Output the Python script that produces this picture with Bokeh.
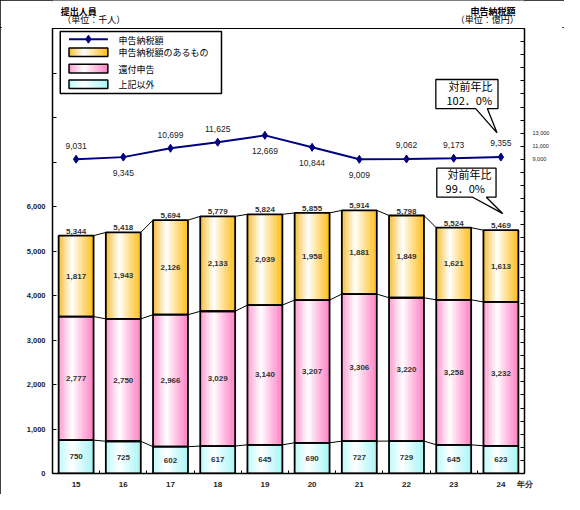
import numpy as np
from bokeh.plotting import figure
from bokeh.layouts import column
from bokeh.models import Range1d, LinearAxis, FixedTicker
from bokeh.core.properties import value
from bokeh.embed import file_html
from bokeh.resources import INLINE

# ---------------- data ----------------
years = ["15", "16", "17", "18", "19", "20", "21", "22", "23", "24"]
year_unit = "年分"
other = [750, 725, 602, 617, 645, 690, 727, 729, 645, 623]              # 上記以外
refund = [2777, 2750, 2966, 3029, 3140, 3207, 3306, 3220, 3258, 3232]   # 還付申告
taxpay = [1817, 1943, 2126, 2133, 2039, 1958, 1881, 1849, 1621, 1613]   # 申告納税額のあるもの
totals = [5344, 5418, 5694, 5779, 5824, 5855, 5914, 5798, 5524, 5469]   # 提出人員 合計
tax_amount = [9031, 9345, 10699, 11625, 12669, 10844, 9009, 9062, 9173, 9355]  # 申告納税額(億円)
tax_label_side = [1, -1, 1, 1, -1, -1, -1, 1, 1, 1]   # +1 above, -1 below
left_ticks = list(range(0, 10001, 1000))
left_tick_labels = ["0", "1,000", "2,000", "3,000", "4,000", "5,000", "6,000", "", "", "", ""]
right_ticks = list(range(-39000, 29001, 2000))
right_tick_labels = {9000: "9,000", 11000: "11,000", 13000: "13,000"}
yoy_tax = "102．0%"
yoy_people = "99．0%"
series_names = ["申告納税額", "申告納税額のあるもの", "還付申告", "上記以外"]
left_title = ["提出人員", "（単位：千人）"]
right_title = ["申告納税額", "（単位：億円）"]

# ---------------- layout helpers (reference pixels -> data) ----------------
W, H = 564, 494
SX, SY = W / 580, H / 510
FL, FR, FT, FB = 53, 539, 29, 488          # plot frame in reference pixels
HEAD = round(FT * SY) - 1                   # header strip height (px)
MAIN_H = H - HEAD
XR = (-0.5, len(years) - 0.5)
YL = (0, 10000)
YR = (-39000, 29000)


def px_x(px):
    return XR[0] + (px - FL) / (FR - FL) * (XR[1] - XR[0])


def px_yl(py):
    return YL[0] + (FB - py) / (FB - FT) * (YL[1] - YL[0])


def dx(d):
    return d / (FR - FL) * (XR[1] - XR[0])


def dyl(d):
    return d / (FB - FT) * (YL[1] - YL[0])


def dyr(d):
    return d / (FB - FT) * (YR[1] - YR[0])


JP = value("Noto Sans CJK JP")
NUM = value("Liberation Sans")

# ---------------- header strip (titles) ----------------
head = figure(width=W, height=HEAD, x_range=Range1d(0, 580), y_range=Range1d(HEAD / SY, 0),
              output_backend="svg", toolbar_location=None, x_axis_type=None, y_axis_type=None,
              min_border=0, min_border_left=0, min_border_right=0, min_border_top=0,
              min_border_bottom=0)
head.outline_line_color = None
head.xgrid.visible = False
head.ygrid.visible = False
head.background_fill_color = "white"
head.border_fill_color = "white"
head.text(x=[10], y=[11], text=[left_title[0]], text_font=JP, text_font_size="9px",
          text_font_style="bold", text_color="black", text_align="left", text_baseline="middle")
head.text(x=[12], y=[20], text=[left_title[1]], text_font=JP, text_font_size="9px",
          text_color="black", text_align="left", text_baseline="middle")
head.text(x=[569], y=[11], text=[right_title[0]], text_font=JP, text_font_size="9px",
          text_font_style="bold", text_color="black", text_align="right", text_baseline="middle")
head.text(x=[573], y=[20], text=[right_title[1]], text_font=JP, text_font_size="9px",
          text_color="black", text_align="right", text_baseline="middle")

# ---------------- main plot ----------------
frame_bottom = round(FB * SY) - HEAD
p = figure(width=W, height=MAIN_H, x_range=Range1d(*XR), y_range=Range1d(*YL),
           output_backend="svg", toolbar_location=None,
           min_border_left=round(FL * SX), min_border_right=W - round(FR * SX),
           min_border_top=1, min_border_bottom=MAIN_H - frame_bottom)
p.extra_y_ranges = {"right": Range1d(*YR)}
p.xgrid.visible = False
p.ygrid.visible = False
p.outline_line_color = "black"
p.outline_line_width = 1
p.background_fill_color = "white"
p.border_fill_color = "white"

# left axis
ya = p.yaxis[0]
ya.ticker = FixedTicker(ticks=left_ticks, minor_ticks=[])
ya.major_label_overrides = {t: l for t, l in zip(left_ticks, left_tick_labels)}
ya.major_tick_in = 4
ya.major_tick_out = 0
ya.minor_tick_in = 0
ya.minor_tick_out = 0
ya.axis_line_color = "black"
ya.axis_line_width = 1.5
ya.major_tick_line_color = "black"
ya.major_label_text_font = "Liberation Sans"
ya.major_label_text_font_size = "7.5px"
ya.major_label_text_font_style = "bold"
ya.major_label_text_color = "#222"
ya.major_label_standoff = 7

# x axis (year labels + unit label at the right edge)
xa = p.xaxis[0]
x_tick_pos = list(range(len(years))) + [XR[1]]
xa.ticker = FixedTicker(ticks=x_tick_pos,
                        minor_ticks=[i + 0.5 for i in range(len(years) - 1)])
xa.major_label_overrides = {t: l for t, l in zip(x_tick_pos, years + [year_unit])}
xa.major_tick_in = 0
xa.major_tick_out = 0
xa.minor_tick_in = 3
xa.minor_tick_out = 0
xa.axis_line_color = "black"
xa.axis_line_width = 1.5
xa.major_label_text_font = "Liberation Sans"
xa.major_label_text_font_size = "8px"
xa.major_label_text_font_style = "bold"
xa.major_label_text_color = "#222"
xa.major_label_standoff = 6

# right axis
ra = LinearAxis(y_range_name="right", ticker=FixedTicker(ticks=right_ticks, minor_ticks=[]))
ra.major_label_overrides = {t: right_tick_labels.get(t, "") for t in right_ticks}
ra.major_tick_in = 4
ra.major_tick_out = 0
ra.minor_tick_in = 0
ra.minor_tick_out = 0
ra.axis_line_color = "black"
ra.axis_line_width = 1.5
ra.major_label_text_font = "Liberation Sans"
ra.major_label_text_font_size = "5.5px"
ra.major_label_text_color = "#222"
ra.major_label_standoff = 8
p.add_layout(ra, "right")

# ---------------- gradient bars ----------------
BW = 0.74
N = 24
palettes = {
    "orange": ((245, 188, 45), (255, 188, 20)),
    "pink": ((255, 150, 205), (255, 125, 195)),
    "cyan": ((185, 250, 250), (165, 245, 245)),
}


def grad_color(name, t):
    left, right = palettes[name]
    tw = 0.40
    if t < tw:
        a = ((tw - t) / tw) ** 1.1
        c = left
    else:
        a = ((t - tw) / (1 - tw)) ** 0.9
        c = right
    r = [int(round(255 * (1 - a) + ci * a)) for ci in c]
    return "#%02x%02x%02x" % tuple(r)


def gradient_rects(xc, w, bottoms, tops, name):
    L, R, B, T, C = [], [], [], [], []
    sw = w / N
    for k in range(N):
        t = (k + 0.5) / N
        col = grad_color(name, t)
        for x0, b, tp in zip(xc, bottoms, tops):
            l = x0 - w / 2 + k * sw
            L.append(l)
            R.append(min(l + sw * 1.25, x0 + w / 2))
            B.append(b)
            T.append(tp)
            C.append(col)
    p.quad(left=L, right=R, bottom=B, top=T, fill_color=C, line_color=None)


xs = np.arange(len(years), dtype=float)
b0 = np.zeros(len(years))
t0 = np.array(other, dtype=float)
t1 = t0 + np.array(refund)
t2 = t1 + np.array(taxpay)

gradient_rects(xs, BW, b0, t0, "cyan")
gradient_rects(xs, BW, t0, t1, "pink")
gradient_rects(xs, BW, t1, t2, "orange")
for b, t in ((b0, t0), (t0, t1), (t1, t2)):
    p.quad(left=xs - BW / 2, right=xs + BW / 2, bottom=b, top=t,
           fill_color=None, line_color="black", line_width=1.8)

# connector lines between bars
for lvl in (t0, t1, t2):
    p.segment(x0=xs[:-1] + BW / 2, y0=lvl[:-1], x1=xs[1:] - BW / 2, y1=lvl[1:],
              line_color="black", line_width=1)

# segment value labels
seg_fmt = lambda v: f"{v:,}"
p.text(x=list(xs) * 3,
       y=list((b0 + t0) / 2) + list((t0 + t1) / 2) + list((t1 + t2) / 2),
       text=[seg_fmt(v) for v in other + refund + taxpay],
       text_font=NUM, text_font_size="8px", text_font_style="bold",
       text_color="#333", text_align="center", text_baseline="middle")
p.text(x=xs, y=t2 + dyl(2), text=[seg_fmt(v) for v in totals],
       text_font=NUM, text_font_size="8px", text_font_style="bold",
       text_color="#333", text_align="center", text_baseline="bottom")

# ---------------- tax amount line ----------------
p.line(xs, tax_amount, y_range_name="right", line_color="#000080", line_width=2)
p.scatter(xs, tax_amount, y_range_name="right", marker="diamond", size=8,
          fill_color="#000080", line_color="#000080")
ty = [v + dyr(14) if s > 0 else v - dyr(16) for v, s in zip(tax_amount, tax_label_side)]
p.text(x=xs, y=ty, text=[f"{v:,}" for v in tax_amount], y_range_name="right",
       text_font=NUM, text_font_size="8.5px", text_color="#222",
       text_align="center", text_baseline="middle")


# ---------------- callouts ----------------
def bubble(tip_x, tip_y, box, base, ydelta, range_name, lines):
    # box = (left, right, top, bottom) px offsets relative to tip; base = (l, r) px offsets
    bl, br, bt, bb = box
    xl, xr = base
    xp = [tip_x + dx(bl), tip_x + dx(br), tip_x + dx(br), tip_x + dx(xr), tip_x,
          tip_x + dx(xl), tip_x + dx(bl)]
    yp = [tip_y + ydelta(-bt), tip_y + ydelta(-bt), tip_y + ydelta(-bb), tip_y + ydelta(-bb),
          tip_y, tip_y + ydelta(-bb), tip_y + ydelta(-bb)]
    kw = {"y_range_name": range_name} if range_name else {}
    p.patch(xp, yp, fill_color="white", line_color="black", line_width=1.3, **kw)
    p.text(x=[tip_x + dx(ox) for ox, oy, txt in lines],
           y=[tip_y + ydelta(-oy) for ox, oy, txt in lines],
           text=[txt for ox, oy, txt in lines],
           text_font=JP, text_font_size="11px", text_color="black",
           text_baseline="middle", text_align="left", **kw)


last = len(years) - 1
tip1_x = xs[last] + dx(-4)
tip1_y = tax_amount[last] + dyr(25)
bubble(tip1_x, tip1_y, (-63, 1, -55, -25), (-22, -10), dyr, "right",
       [(-50, -48, "対前年比"), (-52, -34, yoy_tax)])

tip2_x = xs[last] + dx(2)
tip2_y = t2[last] + dyl(17)
bubble(tip2_x, tip2_y, (-68, -7, -47, -17), (-31, -17), dyl, None,
       [(-57, -41, "対前年比"), (-59, -27, yoy_people)])

# ---------------- legend (drawn) ----------------
p.quad(left=px_x(61), right=px_x(227), top=px_yl(32), bottom=px_yl(96),
       fill_color="white", line_color="black", line_width=1.5)
sw_l, sw_r = px_x(70), px_x(110)
p.line([sw_l, sw_r], [px_yl(40), px_yl(40)], line_color="#000080", line_width=2)
p.scatter([px_x(90)], [px_yl(40)], marker="diamond", size=8,
          fill_color="#000080", line_color="#000080")
legend_rows = [("orange", 49, 58), ("pink", 66, 75), ("cyan", 82, 91)]
for name, ytop, ybot in legend_rows:
    gradient_rects([(sw_l + sw_r) / 2], sw_r - sw_l, [px_yl(ybot)], [px_yl(ytop)], name)
    p.quad(left=sw_l, right=sw_r, top=px_yl(ytop), bottom=px_yl(ybot),
           fill_color=None, line_color="black", line_width=1.5)
p.text(x=[px_x(121)] * 4, y=[px_yl(41), px_yl(54), px_yl(71), px_yl(87)],
       text=series_names, text_font=JP, text_font_size="9px",
       text_color="black", text_align="left", text_baseline="middle")

layout = column(head, p, spacing=0)
layout.styles = {"outline": "2px solid #000", "outline-offset": "-2px"}

open("out.html", "w").write(file_html(layout, INLINE))
